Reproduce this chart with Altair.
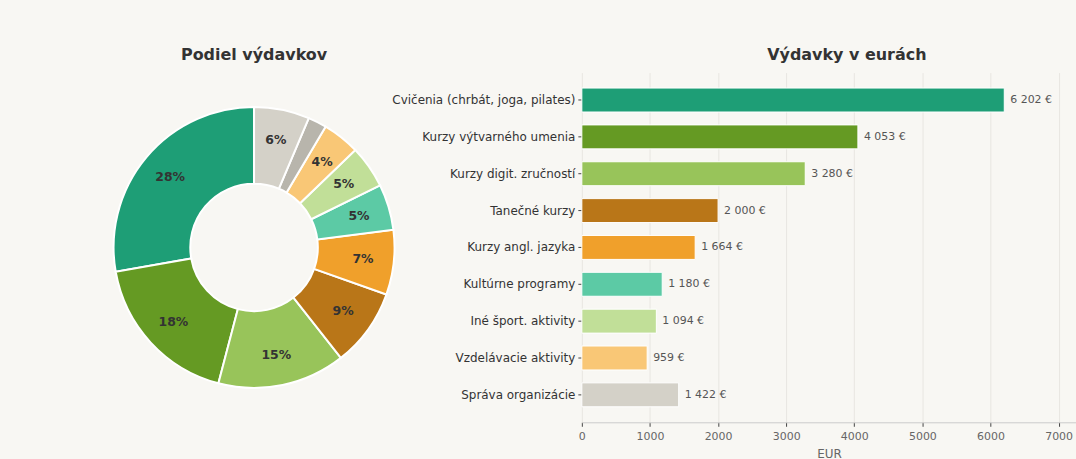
import altair as alt
import pandas as pd

categories = [
    "Cvičenia (chrbát, joga, pilates)",
    "Kurzy výtvarného umenia",
    "Kurzy digit. zručností",
    "Tanečné kurzy",
    "Kurzy angl. jazyka",
    "Kultúrne programy",
    "Iné šport. aktivity",
    "Vzdelávacie aktivity",
    "Správa organizácie",
]
values = [6202, 4053, 3280, 2000, 1664, 1180, 1094, 959, 1422]
colors = ["#1e9e76", "#659a23", "#98c45a", "#b97618", "#f0a02b",
          "#5ccaa5", "#c1df98", "#f9c776", "#d4d1c8"]

# donut has one extra small slice not shown in the bar chart
pie_categories = categories[:8] + ["Ostatné"] + categories[8:]
pie_values = values[:8] + [480] + values[8:]
pie_colors = colors[:8] + ["#b8b5ac"] + colors[8:]

BG = "#f8f7f3"
FONT = "DejaVu Sans"

total = sum(pie_values)
pie_df = pd.DataFrame({
    "cat": pie_categories,
    "val": pie_values,
    # clockwise from 12 o'clock: last item first
    "ord": list(range(len(pie_categories)))[::-1],
})
pie_df["pct"] = [
    f"{round(v / total * 100):.0f}%" if v / total >= 0.03 else "" for v in pie_values
]

bar_df = pd.DataFrame({"cat": categories, "val": values})
bar_df["lbl"] = [f"{v:,}".replace(",", " ") + " €" for v in values]

color_scale = alt.Scale(domain=pie_categories, range=pie_colors)

base_pie = alt.Chart(pie_df).encode(
    theta=alt.Theta("val:Q", stack=True),
    order=alt.Order("ord:Q", sort="ascending"),
)
arcs = base_pie.mark_arc(
    outerRadius=141, innerRadius=64, stroke="white", strokeWidth=2
).encode(color=alt.Color("cat:N", scale=color_scale, legend=None))
pct_text = base_pie.mark_text(
    radius=110, font=FONT, fontSize=12.5, fontWeight="bold", color="#333333"
).encode(text="pct:N")

pie = (arcs + pct_text).properties(
    width=284, height=351,
    title=alt.TitleParams("Podiel výdavkov", fontSize=16, font=FONT,
                          fontWeight="bold", color="#333333", offset=10),
)

base_bar = alt.Chart(bar_df).encode(
    y=alt.Y("cat:N", sort=categories, title=None,
            scale=alt.Scale(paddingInner=0.35, paddingOuter=0.42),
            axis=alt.Axis(labelFontSize=12, labelColor="#333333", labelFont=FONT,
                          domain=False, ticks=True, tickSize=4, tickColor="#444444",
                          labelPadding=3, labelLimit=300)),
    x=alt.X("val:Q", title="EUR",
            scale=alt.Scale(domain=[0, 7255], nice=False, zero=True),
            axis=alt.Axis(values=[0, 1000, 2000, 3000, 4000, 5000, 6000, 7000],
                          format="d",
                          labelFontSize=11, labelColor="#666666", labelFont=FONT,
                          titleFontSize=12, titleColor="#666666", titleFont=FONT,
                          titleFontWeight="normal", titlePadding=7,
                          labelPadding=4,
                          domainColor="#cccccc", tickColor="#444444", tickSize=4,
                          grid=True, gridColor="#e8e6e1", labelFlush=False)),
)
bars = base_bar.mark_bar(stroke="white", strokeWidth=1).encode(
    color=alt.Color("cat:N", scale=color_scale, legend=None)
)
bar_text = base_bar.mark_text(
    align="left", baseline="middle", dx=6, font=FONT, fontSize=11, color="#555555"
).encode(text="lbl:N")

bar_chart = (bars + bar_text).properties(
    width=496, height=351,
    title=alt.TitleParams("Výdavky v eurách", fontSize=16, font=FONT,
                          fontWeight="bold", color="#333333", offset=10, dx=18),
)

chart = alt.hconcat(pie, bar_chart, spacing=-7).properties(
    background=BG,
    padding={"left": 110, "top": 46, "right": 0, "bottom": 0},
).configure_view(stroke=None).configure_axis(gridColor="#e8e6e1")

chart.save("out.html", embed_options={"renderer": "svg", "actions": False})
